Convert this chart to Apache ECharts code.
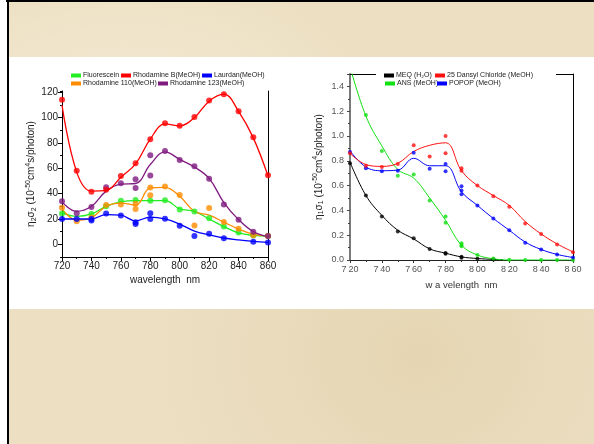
<!DOCTYPE html>
<html>
<head>
<meta charset="utf-8">
<script src="https://cdn.jsdelivr.net/npm/echarts@6/dist/echarts.min.js"></script>
<style>
html,body{margin:0;padding:0;width:594px;height:444px;overflow:hidden;background:#fff;}
#frameTop{position:absolute;left:6px;top:0;width:588px;height:2px;background:#000;}
#frameLeft{position:absolute;left:7px;top:0;width:2px;height:444px;background:#000;}
#paper{position:absolute;left:9px;top:2px;width:585px;height:442px;background:#ecdfc2;
 background-image:radial-gradient(ellipse at 20% 30%, rgba(255,250,235,0.5), rgba(0,0,0,0) 40%),radial-gradient(ellipse at 70% 80%, rgba(215,195,150,0.35), rgba(0,0,0,0) 45%);}
#panel{position:absolute;left:9px;top:57px;width:585px;height:252px;background:#fff;}
#chart{position:absolute;left:0;top:0;width:594px;height:444px;}
</style>
</head>
<body>
<div id="paper"></div>
<div id="panel"></div>
<div id="frameTop"></div>
<div id="frameLeft"></div>
<div id="chart"></div>
<script>
// ---------- Left chart (two-photon, eta2 sigma2) ----------
const leftWl = [720,730,740,750,760,770,780,790,800,810,820,830,840,850,860];
const leftYTicks = [0,20,40,60,80,100,120];

const fluoresceinPts = [[720,24.4],[740,24],[750,30],[760,34.4],[770,35],[780,34.4],[790,34.7],[800,27.5],[810,26],[820,20.5],[830,14],[840,9.3],[850,7],[860,6.6]];
const fluoresceinFit = [25,22,24,30,33.5,34.5,34.5,34.5,28,26,20,14,9,7,6.5];

const rhodBPts = [[720,114],[730,58],[740,41.5],[750,43],[760,54],[770,64],[780,83],[790,95.5],[800,93.5],[810,100.5],[820,113.5],[830,118.5],[840,105],[850,84.5],[860,54.5]];
const rhodBFit = [110,57,42,42.5,53,63.5,83,95,93.5,100,113,118.5,105,84,54];

const laurdanPts = [[720,19.9],[730,19.9],[740,18.8],[740,20],[750,24.4],[760,22.8],[770,17.5],[770,16],[780,24.6],[780,19.9],[790,20.1],[800,14.6],[810,6.5],[820,8.3],[830,4.8],[850,2],[860,1.5]];
const laurdanFit = [20,20,20,23.5,23,18.5,21.5,20,16,10.5,7.5,5,3.5,2.4,1.6];

const rhod110Pts = [[720,28.9],[730,18.3],[740,21.2],[750,31],[760,31.5],[770,32],[770,27.8],[780,44.8],[780,38.7],[790,45.6],[800,38.9],[810,14.8],[820,28.6],[830,17.7],[840,12.2],[850,7.2],[860,6.6]];
const rhod110Fit = [28,19,21,30,32.5,31,44.5,45,38,26,23,17.5,12,8,6.5];

const rhod123Pts = [[720,33.9],[730,24.6],[740,29.4],[750,45],[760,48.2],[770,51.4],[770,44.5],[780,70.2],[780,54.3],[790,73.6],[800,66.5],[810,61.7],[820,51.7],[830,31.5],[840,19.3],[850,10],[860,6.6]];
const rhod123Fit = [33.5,26,30,42,47.5,48,63,73,67,61,52,33,19.5,10,6];

// ---------- Right chart (eta1 sigma1) ----------
const rightWl = [720,730,740,750,760,770,780,790,800,810,820,830,840,850,860];
const meqFitWl = [720,730,740,750,760,770,780,790,800,810,816];

const meqPts = [[720,0.78],[730,0.52],[740,0.35],[750,0.23],[760,0.175],[770,0.088],[780,0.057],[780,0.05],[790,0.027],[790,0.018],[800,0.01],[810,0.005]];
const meqFit = [0.79,0.52,0.36,0.24,0.17,0.09,0.055,0.025,0.012,0.005,0.003];

const ansPts = [[730,1.17],[740,0.88],[750,0.68],[760,0.69],[770,0.48],[780,0.35],[780,0.30],[790,0.135],[790,0.12],[790,0.11],[800,0.04],[810,0.012],[820,0.003],[830,0],[840,0],[850,0],[860,0]];
const ansFit = [1.56,1.16,0.92,0.73,0.66,0.5,0.32,0.12,0.04,0.01,0,0,0,0,0];

const dansylPts = [[720,0.86],[730,0.76],[740,0.75],[750,0.775],[760,0.925],[770,0.835],[780,1.0],[780,0.86],[790,0.74],[790,0.72],[800,0.6],[810,0.515],[820,0.43],[830,0.295],[840,0.21],[850,0.125],[860,0.062]];
const dansylFit = [0.86,0.77,0.755,0.78,0.875,0.925,0.945,0.72,0.6,0.52,0.44,0.31,0.21,0.13,0.065];

const popopPts = [[720,0.87],[730,0.74],[740,0.715],[750,0.72],[760,0.865],[770,0.735],[780,0.775],[780,0.715],[790,0.595],[790,0.56],[790,0.53],[800,0.44],[810,0.335],[820,0.24],[830,0.14],[840,0.085],[850,0.045],[860,0.02]];
const popopFit = [0.88,0.75,0.72,0.725,0.82,0.76,0.76,0.55,0.44,0.335,0.24,0.145,0.085,0.045,0.02];

const FONT = 'Liberation Sans, Arial, sans-serif';

function pair(wl, ys){ return ys.map((y,i)=>[wl[i], y]); }

function dye(name, color, pts, fitWl, fit, xi, yi, lw, ms){
  return [
    {name:name, type:'line', xAxisIndex:xi, yAxisIndex:yi, data:pair(fitWl, fit),
     smooth:0.4, symbol:'none', color:color, lineStyle:{color:color, width:lw}, z:3},
    {name:name, type:'scatter', xAxisIndex:xi, yAxisIndex:yi, data:pts,
     symbol:'circle', symbolSize:ms, color:color, itemStyle:{color:color}, z:4}
  ];
}

const C = {
  fl:'#22ee22', rb:'#ff0000', la:'#0000ff', r110:'#ff8c00', r123:'#7f1a7f',
  meq:'#000000', dan:'#ff1010', ans:'#11e011', pop:'#0000ff'
};

const series = [].concat(
  dye('Fluorescein', C.fl, fluoresceinPts, leftWl, fluoresceinFit, 0, 0, 1.3, 6),
  dye('Rhodamine 110(MeOH)', C.r110, rhod110Pts, leftWl, rhod110Fit, 0, 0, 1.3, 6),
  dye('Laurdan(MeOH)', C.la, laurdanPts, leftWl, laurdanFit, 0, 0, 1.3, 6),
  dye('Rhodamine 123(MeOH)', C.r123, rhod123Pts, leftWl, rhod123Fit, 0, 0, 1.3, 6),
  dye('Rhodamine B(MeOH)', C.rb, rhodBPts, leftWl, rhodBFit, 0, 0, 1.3, 6),
  dye('MEQ (H\u2082O)', C.meq, meqPts, meqFitWl, meqFit, 1, 3, 1, 4),
  dye('ANS (MeOH)', C.ans, ansPts, rightWl, ansFit, 1, 3, 1, 4),
  dye('POPOP (MeOH)', C.pop, popopPts, rightWl, popopFit, 1, 3, 1, 4),
  dye('25 Dansyl Chloride (MeOH)', C.dan, dansylPts, rightWl, dansylFit, 1, 3, 1, 4)
);

function leg(name, left, top){
  return {data:[name], left:left, top:top, orient:'horizontal', icon:'rect',
    itemWidth:10, itemHeight:4, padding:0, itemGap:0, selectedMode:false, z:20,
    textStyle:{fontSize:7, color:'#222', fontFamily:FONT, padding:[0,0,0,-3]}};
}

const richTitle = {
  t:{fontSize:10, color:'#222', fontFamily:FONT},
  s:{fontSize:7, color:'#222', fontFamily:FONT, padding:[5,0,0,0]},
  p:{fontSize:7, color:'#222', fontFamily:FONT, padding:[0,0,7,0]}
};

const chart = echarts.init(document.getElementById('chart'), null, {renderer:'canvas'});
chart.setOption({
  backgroundColor:'transparent',
  animation:false,
  textStyle:{fontFamily:FONT},
  grid:[
    {left:62, top:91, width:206, height:166},
    {left:350, top:74, width:223, height:186}
  ],
  legend:[
    leg('Fluorescein', 71, 72),
    leg('Rhodamine B(MeOH)', 121, 72),
    leg('Laurdan(MeOH)', 202, 72),
    leg('Rhodamine 110(MeOH)', 71, 80),
    leg('Rhodamine 123(MeOH)', 158, 80),
    leg('MEQ (H\u2082O)', 384, 72),
    leg('25 Dansyl Chloride (MeOH)', 435, 72),
    leg('ANS (MeOH)', 385, 80),
    leg('POPOP (MeOH)', 437, 80)
  ],
  graphic:[
    {type:'rect', left:376, top:72, shape:{width:180, height:5}, style:{fill:'#fff'}, z:10, silent:true}
  ],
  xAxis:[
    {gridIndex:0, type:'value', position:'bottom', min:720, max:860, interval:20,
     axisLine:{show:true, onZero:false, lineStyle:{color:'#000', width:1}},
     axisTick:{show:true, length:4, lineStyle:{color:'#000'}},
     minorTick:{show:true, splitNumber:2, length:2, lineStyle:{color:'#000'}},
     splitLine:{show:false},
     axisLabel:{fontSize:10, color:'#222', margin:4, fontFamily:FONT},
     name:'wavelength  nm', nameLocation:'middle', nameGap:18,
     nameTextStyle:{fontSize:10, color:'#222', fontFamily:FONT}},
    {gridIndex:1, type:'value', position:'bottom', min:720, max:860, interval:20,
     axisLine:{show:true, onZero:false, lineStyle:{color:'#222', width:1}},
     axisTick:{show:true, length:3, lineStyle:{color:'#333'}},
     minorTick:{show:true, splitNumber:2, length:2, lineStyle:{color:'#333'}},
     splitLine:{show:false},
     axisLabel:{fontSize:9, color:'#555', margin:5, fontFamily:FONT,
       formatter:function(v){const s=String(v); return s.charAt(0)+'\u2009'+s.slice(1);}},
     name:'w a velength  nm', nameLocation:'middle', nameGap:20,
     nameTextStyle:{fontSize:9.5, color:'#333', fontFamily:FONT}},
    {gridIndex:1, type:'value', position:'top', min:720, max:860,
     axisLine:{show:true, onZero:false, lineStyle:{color:'#000', width:1}},
     axisTick:{show:false}, axisLabel:{show:false}, splitLine:{show:false}}
  ],
  yAxis:[
    {gridIndex:0, type:'value', position:'left', min:-10, max:121, interval:10,
     axisLine:{show:true, onZero:false, lineStyle:{color:'#000', width:1}},
     axisTick:{show:true, length:4, customValues:leftYTicks, lineStyle:{color:'#000'}},
     splitLine:{show:false},
     axisLabel:{fontSize:10, color:'#222', margin:4, fontFamily:FONT, customValues:leftYTicks,
       formatter:function(v){return (v>=0 && v%20===0) ? String(v) : '';}},
     name:'{t|\u03b7}{s|2}{t|\u03c3}{s|2}{t| (10}{p|-50}{t|cm}{p|4}{t|s/photon)}',
     nameLocation:'middle', nameRotate:90, nameGap:23,
     nameTextStyle:{rich:richTitle}},
    {gridIndex:0, type:'value', position:'left', min:-10, max:121, interval:10,
     axisLine:{show:false}, axisTick:{show:true, length:2, lineStyle:{color:'#000'}},
     axisLabel:{show:false}, splitLine:{show:false}},
    {gridIndex:0, type:'value', position:'right', min:-10, max:121,
     axisLine:{show:true, onZero:false, lineStyle:{color:'#000', width:1}},
     axisTick:{show:false}, axisLabel:{show:false}, splitLine:{show:false}},
    {gridIndex:1, type:'value', position:'left', min:0, max:1.5, interval:0.2,
     axisLine:{show:true, onZero:false, lineStyle:{color:'#7a7a7a', width:2}},
     axisTick:{show:true, length:3, lineStyle:{color:'#444'}},
     minorTick:{show:true, splitNumber:2, length:2, lineStyle:{color:'#444'}},
     splitLine:{show:false},
     axisLabel:{fontSize:9, color:'#555', margin:6, fontFamily:FONT,
       formatter:function(v){const k=Math.round(v*5); return Math.abs(v*5-k)<1e-6 ? v.toFixed(1) : '';}},
     name:'{t|\u03b7}{s|1}{t|\u03c3}{s|1}{t| (10}{p|-50}{t|cm}{p|4}{t|s/photon)}',
     nameLocation:'middle', nameRotate:90, nameGap:24,
     nameTextStyle:{rich:richTitle}},
    {gridIndex:1, type:'value', position:'right', min:0, max:1.5,
     axisLine:{show:true, onZero:false, lineStyle:{color:'#000', width:1}},
     axisTick:{show:false}, axisLabel:{show:false}, splitLine:{show:false}}
  ],
  series:series
});
</script>
</body>
</html>
